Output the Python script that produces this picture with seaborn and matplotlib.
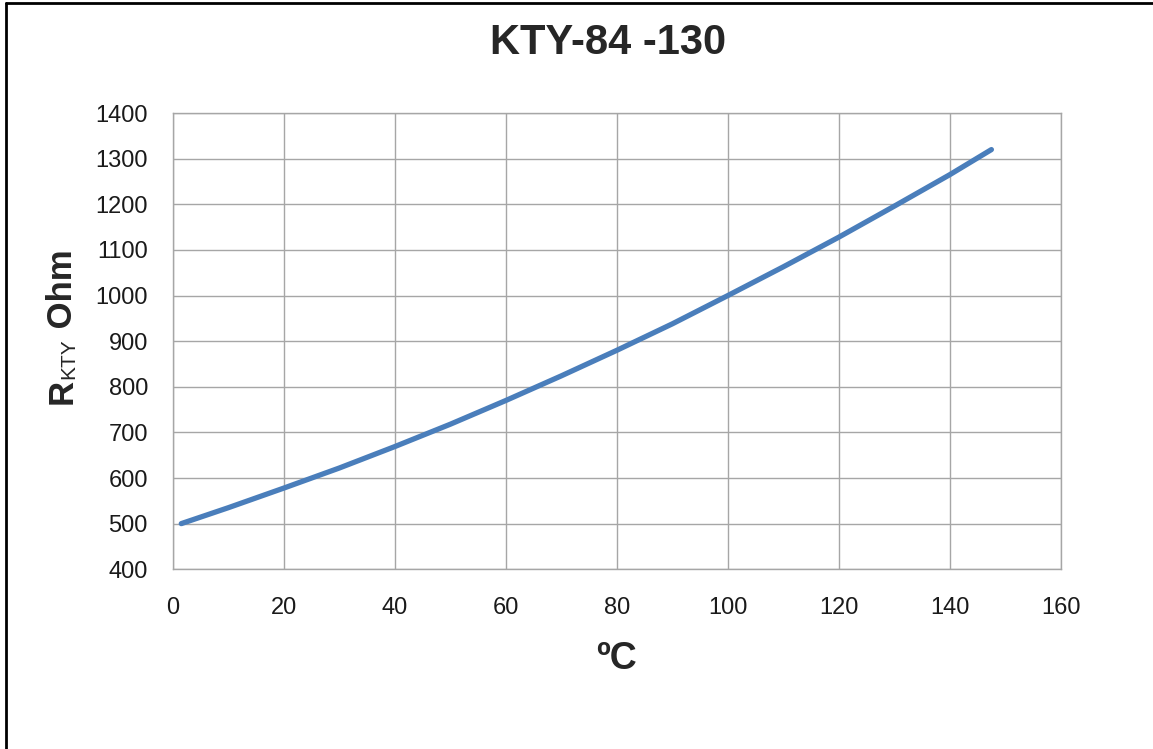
import seaborn as sns
import matplotlib.pyplot as plt
import pandas as pd
from matplotlib.lines import Line2D

# values
temps = [1.5, 10, 20, 30, 40, 50, 60, 70, 80, 90, 100, 110, 120, 130, 140, 147.5]
resistance = [500, 535, 578, 622, 669, 718, 770, 824, 880, 938, 1000, 1063, 1128, 1196, 1265, 1320]
x_ticks = [0, 20, 40, 60, 80, 100, 120, 140, 160]
y_ticks = [400, 500, 600, 700, 800, 900, 1000, 1100, 1200, 1300, 1400]

sns.set_style("white")
plt.rcParams["font.family"] = ["Liberation Sans", "DejaVu Sans"]

df = pd.DataFrame({"temp": temps, "r": resistance})

fig = plt.figure(figsize=(11.53, 7.49), dpi=100)
ax = fig.add_axes([0.150, 0.240, 0.770, 0.609])

sns.lineplot(data=df, x="temp", y="r", ax=ax, color="#4A7EBB", linewidth=3.8,
             solid_capstyle="round")

grid_c = "#A6A6A6"
ax.set_xlim(0, 160)
ax.set_ylim(400, 1400)
ax.set_xticks(x_ticks)
ax.set_yticks(y_ticks)
ax.grid(True, color=grid_c, linewidth=1.0)
for s in ax.spines.values():
    s.set_color(grid_c)
    s.set_linewidth(1.0)
ax.tick_params(axis="both", direction="out", length=7, width=1.0, color=grid_c,
               labelsize=17, labelcolor="#1a1a1a")
ax.tick_params(axis="x", pad=13)
ax.tick_params(axis="y", pad=11)

ax.set_xlabel("ºC", fontsize=27, fontweight="bold", labelpad=16)
ax.set_ylabel("")

fig.text(0.527, 0.943, "KTY-84 -130", fontsize=30, fontweight="bold",
         ha="center", va="center")

# y label "R_KTY Ohm" built from pieces, reading bottom to top
fig.canvas.draw()
renderer = fig.canvas.get_renderer()
base_x = 72 / 1153
y_px = 749 - 404
pieces = [("R", 25, "bold", 0), ("KTY", 15, "normal", 2), (" Ohm", 25, "bold", 0)]
for txt, size, weight, shift in pieces:
    t = fig.text(base_x + shift / 1153, y_px / 749, txt, fontsize=size, fontweight=weight,
                 rotation=90, rotation_mode="anchor", ha="left", va="baseline")
    ext = t.get_window_extent(renderer)
    y_px += ext.height

# frame edges visible in the screenshot (left and top only)
fig.add_artist(Line2D([0.0052, 0.0052], [0, 0.996], transform=fig.transFigure,
                      color="black", linewidth=2))
fig.add_artist(Line2D([0.0052, 1.0], [0.9955, 0.9955], transform=fig.transFigure,
                      color="black", linewidth=2))

fig.savefig("out.png", dpi=100, facecolor="white")
